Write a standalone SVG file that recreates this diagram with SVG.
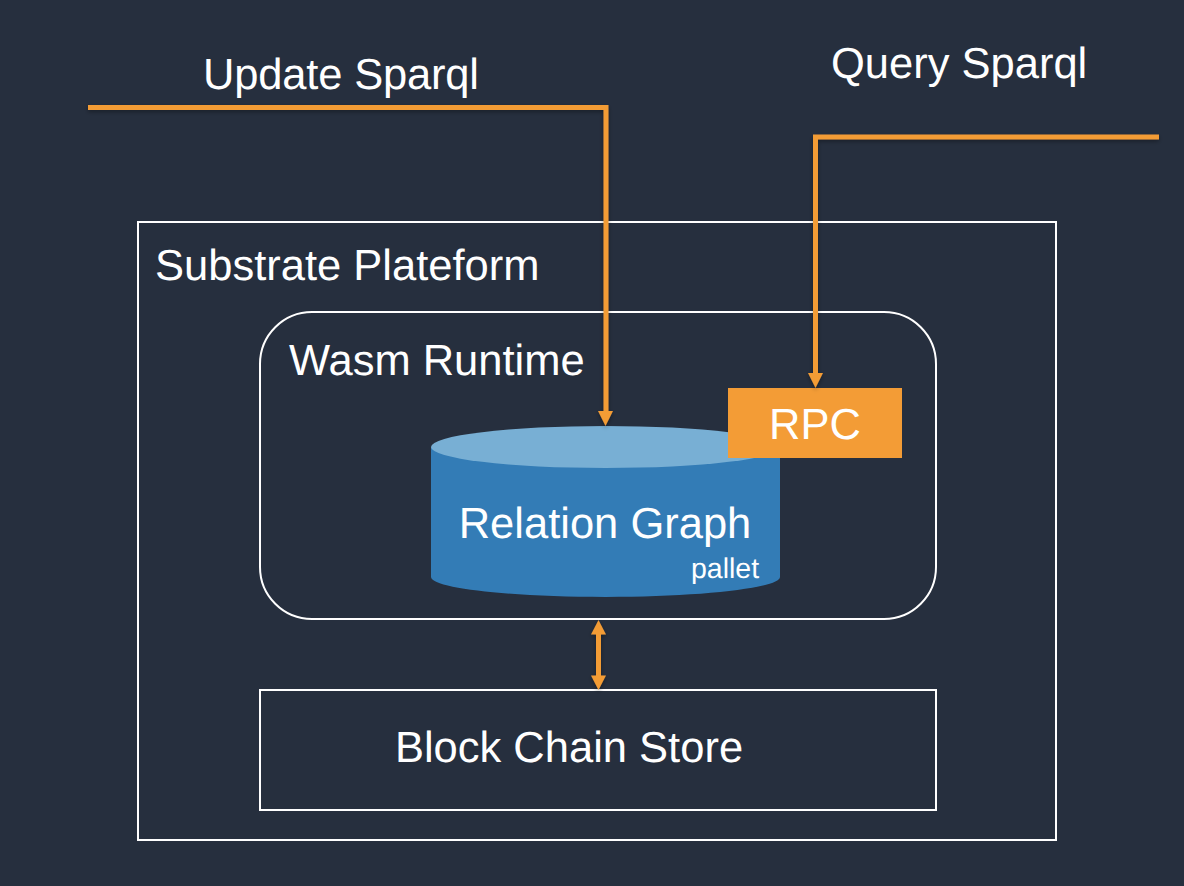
<svg xmlns="http://www.w3.org/2000/svg" width="1184" height="886" viewBox="0 0 1184 886">
<style>
text{font-family:"Liberation Sans",Arial,sans-serif;fill:#fff;text-rendering:geometricPrecision}
.l{font-size:43.500px}
.box{fill:none;stroke:#fff;stroke-width:2}
.c{fill:none;stroke:#f39c36;stroke-width:5}
.h{fill:#f39c36;stroke:none}
</style>
<defs>
<filter id="sh" x="-10%" y="-10%" width="120%" height="120%" filterUnits="objectBoundingBox"><feDropShadow dx="0" dy="2" stdDeviation="2" flood-color="#000" flood-opacity="0.35"/></filter>
</defs>
<rect width="1184" height="886" fill="#262f3e"/>
<g id="platform"><rect class="box" x="138" y="222" width="918" height="618"/><text class="l" x="155" y="280">Substrate Plateform</text></g>
<g id="runtime"><rect class="box" x="260" y="312" width="676" height="307" rx="52"/><text class="l" x="289" y="375">Wasm Runtime</text></g>
<g id="store"><rect class="box" x="260" y="690" width="676" height="120"/><text class="l" x="569" y="762" text-anchor="middle">Block Chain Store</text></g>
<g id="graph">
<path d="M431 447V577C431 588 509 597 605.500 597S780 588 780 577V447Z" fill="#337cb6"/>
<ellipse cx="605.500" cy="447" rx="174.500" ry="21" fill="#78afd4"/>
<text class="l" x="605" y="538" text-anchor="middle">Relation Graph</text>
<text x="691" y="578" font-size="28.500">pallet</text>
</g>
<g id="rpc"><rect x="728" y="388" width="174" height="70" fill="#f39c36"/><text class="l" x="815" y="439" text-anchor="middle">RPC</text></g>
<g id="update-label"><text class="l" x="203" y="89" textLength="276">Update Sparql</text></g>
<g id="query-label"><text class="l" x="831" y="78">Query Sparql</text></g>
<g id="connectors" filter="url(#sh)">
<path class="c" d="M88 107.500H606V412"/>
<path class="h" d="M598 411H613L605.500 426Z"/>
<path class="c" d="M1159 137H815.500V374"/>
<path class="h" d="M808 373H823L815.500 388Z"/>
<path class="c" d="M598.500 632V678"/>
<path class="h" d="M598.500 620L606 634.500H591Z"/>
<path class="h" d="M591 675.500H606L598.500 690Z"/>
</g>
</svg>
